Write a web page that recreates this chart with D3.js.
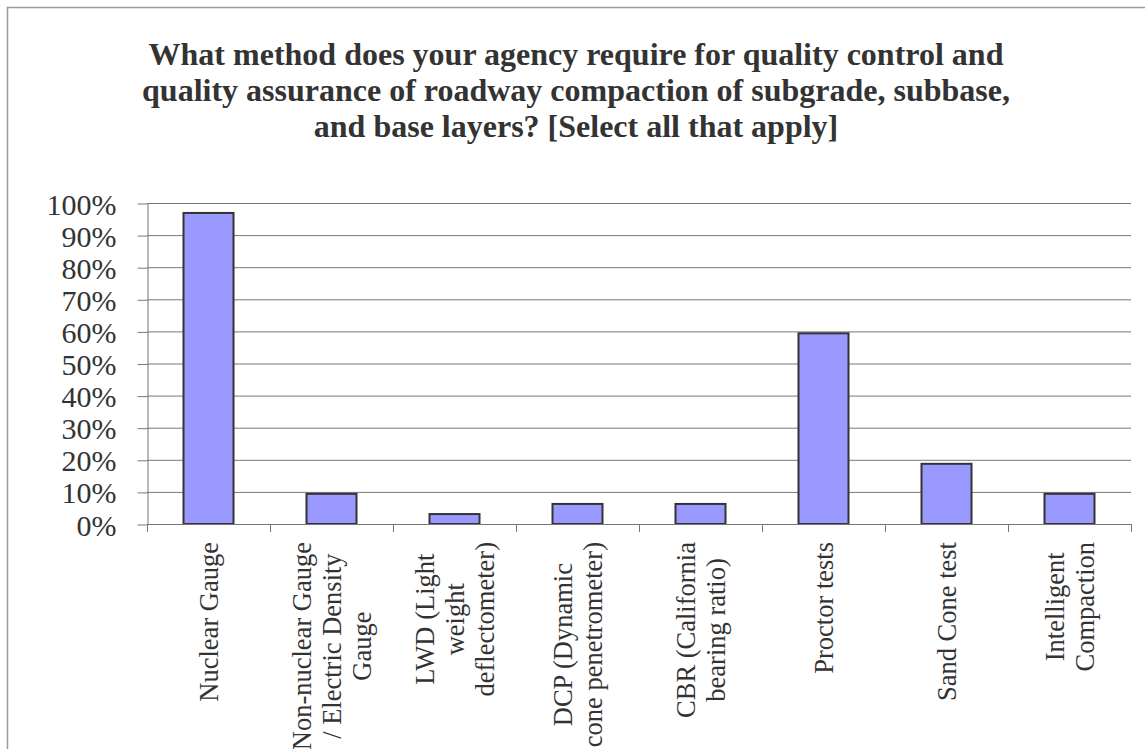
<!DOCTYPE html>
<html><head><meta charset="utf-8">
<script src="https://cdn.jsdelivr.net/npm/d3@7"></script>
<style>html,body{margin:0;padding:0;background:#fff;overflow:hidden}</style>
</head><body>
<svg id="chart" width="1145" height="749"></svg>
<script>
const categories = [
  "Nuclear Gauge",
  "Non-nuclear Gauge / Electric Density Gauge",
  "LWD (Light weight deflectometer)",
  "DCP (Dynamic cone penetrometer)",
  "CBR (California bearing ratio)",
  "Proctor tests",
  "Sand Cone test",
  "Intelligent Compaction"
];
const labelLines = [
  ["Nuclear Gauge"],
  ["Non-nuclear Gauge", "/ Electric Density", "Gauge"],
  ["LWD (Light", "weight", "deflectometer)"],
  ["DCP (Dynamic", "cone penetrometer)"],
  ["CBR (California", "bearing ratio)"],
  ["Proctor tests"],
  ["Sand Cone test"],
  ["Intelligent", "Compaction"]
];
const values = [0.969, 0.094, 0.031, 0.0625, 0.0625, 0.594, 0.1875, 0.094];
const yTicks = [0, 0.1, 0.2, 0.3, 0.4, 0.5, 0.6, 0.7, 0.8, 0.9, 1.0];
const titleLines = [
  "What method does your agency require for quality control and",
  "quality assurance of roadway compaction of subgrade, subbase,",
  "and base layers? [Select all that apply]"
];

(function () {
const svg = d3.select("#chart");
const serif = "'Liberation Serif','Times New Roman',Times,serif";
const ink = "#333";

// outer frame
svg.append("rect").attr("x", 7.5).attr("y", 7.5).attr("width", 1200).attr("height", 800)
  .attr("fill", "none").attr("stroke", "#999").attr("stroke-width", 1.5);

const pLeft = 147, pRight = 1131, pTop = 203, pBottom = 524;
const x = d3.scaleBand().domain(categories).range([pLeft, pRight]).padding(0);
const y = d3.scaleLinear().domain([0, 1]).range([pBottom, pTop]);

// title
svg.append("text").attr("text-anchor", "middle")
  .attr("font-family", serif).attr("font-weight", "bold").attr("font-size", 32).attr("fill", ink)
  .selectAll("tspan").data(titleLines).join("tspan")
  .attr("x", 576).attr("y", (d, i) => 65 + i * 36).text(d => d);

// gridlines
svg.append("g").selectAll("line").data(yTicks.slice(1)).join("line")
  .attr("x1", pLeft).attr("x2", pRight).attr("y1", d => y(d) + 0.5).attr("y2", d => y(d) + 0.5)
  .attr("stroke", "#777").attr("stroke-width", 1);

// y axis
const yAxis = d3.axisLeft(y).tickValues(yTicks).tickSize(10).tickSizeOuter(0)
  .tickFormat(d => Math.round(d * 100) + "%");
const gy = svg.append("g").attr("transform", `translate(${pLeft + 0.5},0.5)`).call(yAxis);
gy.selectAll("path,line").attr("stroke", "#777");
gy.selectAll("text").attr("font-family", serif).attr("font-size", 30).attr("fill", ink)
  .attr("x", -31).attr("dy", "0.35em");

// bars
const bw = 50;
svg.append("g").selectAll("rect").data(values).join("rect")
  .attr("x", (d, i) => x(categories[i]) + (x.bandwidth() - bw) / 2)
  .attr("y", d => y(d))
  .attr("width", bw)
  .attr("height", d => y(0) - y(d))
  .attr("fill", "#9999ff").attr("stroke", "#333").attr("stroke-width", 2);

// x axis baseline + ticks at category boundaries
const boundaries = categories.map(c => x(c)).concat([pRight]);
svg.append("line").attr("x1", pLeft).attr("x2", pRight).attr("y1", pBottom + 0.5).attr("y2", pBottom + 0.5)
  .attr("stroke", "#777");
svg.append("g").selectAll("line").data(boundaries).join("line")
  .attr("x1", d => d + 0.5).attr("x2", d => d + 0.5).attr("y1", pBottom).attr("y2", pBottom + 8)
  .attr("stroke", "#777");

// x labels (rotated, centered block, top-aligned)
const fs = 26.5, lh = 30, labelTop = 542;
const lg = svg.append("g");
labelLines.forEach((lines, i) => {
  const cx = x(categories[i]) + x.bandwidth() / 2;
  const n = lines.length;
  const widths = lines.map(s => {
    const tmp = lg.append("text").attr("font-family", serif).attr("font-size", fs).text(s);
    const w = tmp.node().getComputedTextLength(); tmp.remove(); return w;
  });
  const maxW = d3.max(widths);
  const t = lg.append("text").attr("font-family", serif).attr("font-size", fs).attr("fill", ink)
    .attr("transform", `translate(${cx},${labelTop}) rotate(-90)`)
    .attr("text-anchor", "middle");
  t.selectAll("tspan").data(lines).join("tspan")
    .attr("x", -maxW / 2)
    .attr("y", (d, j) => (j - (n - 1) / 2) * lh + 0.35 * fs)
    .text(d => d);
});
})();
</script>
</body></html>
